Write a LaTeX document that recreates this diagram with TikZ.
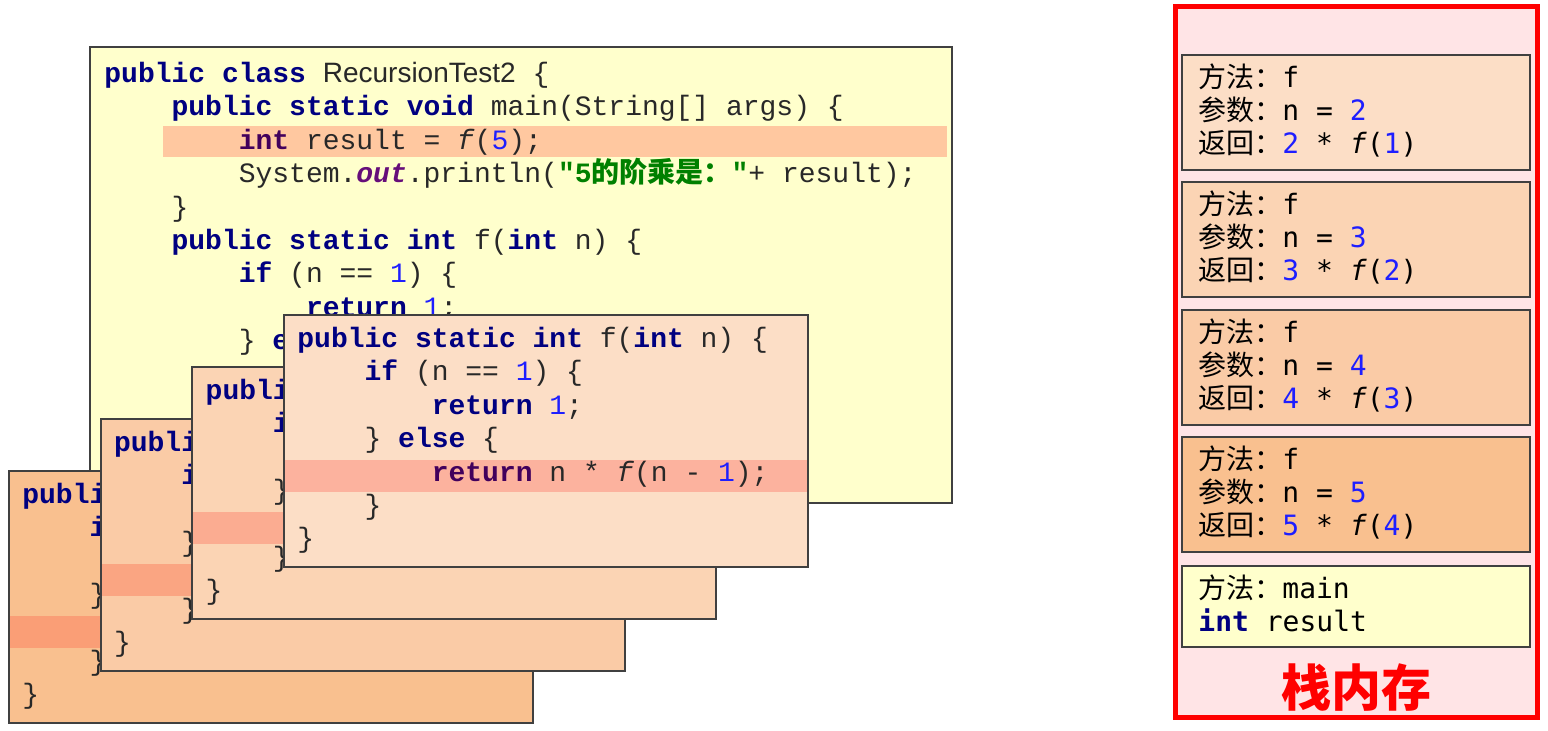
\documentclass[tikz,border=0pt]{standalone}
\usepackage{fontspec}
\setmainfont{Liberation Serif}
\setsansfont{Liberation Sans}
\setmonofont{Liberation Mono}
\newfontfamily\cjk{Noto Sans CJK SC}
\newfontfamily\stackmono{DejaVu Sans Mono}
\usepackage{xcolor}
\usetikzlibrary{positioning}

\definecolor{kwblue}{RGB}{0,0,128}
\definecolor{kwdark}{RGB}{66,0,92}
\definecolor{numblue}{RGB}{30,30,255}
\definecolor{outpurple}{RGB}{102,14,122}
\definecolor{strgreen}{RGB}{0,128,0}
\definecolor{plain}{RGB}{40,40,40}
\definecolor{edge}{RGB}{64,64,64}
\definecolor{mainfill}{RGB}{255,255,204}
\definecolor{mainhl}{RGB}{255,200,160}
\definecolor{frameA}{RGB}{249,192,143}
\definecolor{frameB}{RGB}{250,203,166}
\definecolor{frameC}{RGB}{251,212,180}
\definecolor{frameD}{RGB}{252,222,198}
\definecolor{hlA}{RGB}{250,158,118}
\definecolor{hlB}{RGB}{250,165,130}
\definecolor{hlC}{RGB}{251,172,145}
\definecolor{hlD}{RGB}{252,178,158}
\definecolor{stackbg}{RGB}{255,228,230}

\newlength\codecw
\setlength\codecw{8.4pt}
\newcommand\ind[1]{\hspace*{#1\codecw}}
\newcommand\kwd[1]{\textbf{\color{kwblue}#1}}
\newcommand\kwp[1]{\textbf{\color{kwdark}#1}}
\newcommand\numc[1]{\textcolor{numblue}{#1}}
\newcommand\codestrut{\rule{0pt}{13pt}}

\begin{document}
\begin{tikzpicture}[x=0.5pt, y=-0.5pt,
  codebox/.style={draw=edge, line width=1pt},
  code/.style={anchor=north west, inner sep=0pt, align=left, text=plain,
               font=\ttfamily\fontsize{14}{16.7}\selectfont},
  stackline/.style={anchor=north west, inner sep=0pt, align=left, text=black,
                    font=\stackmono\fontsize{14}{16.5}\selectfont},
  title/.style={text=red, font=\cjk\bfseries\fontsize{25}{25}\selectfont}
]
\useasboundingbox (0,0) rectangle (1548,730);
% the class with main
\fill[mainfill] (90,47) rectangle (952,503);
\fill[mainhl] (163,126) rectangle (947,157);
\draw[codebox] (90,47) rectangle (952,503);
\node[code] (maincode) at (104,56) {\codestrut\kwd{public} \kwd{class} {\sffamily RecursionTest2} \{\\
\ind{4}\kwd{public} \kwd{static} \kwd{void} main(String[] args) \{\\
\ind{8}\kwp{int} result = \textit{f}(\numc{5});\\
\ind{8}System.\textbf{\textit{\color{outpurple}out}}.println(\textbf{\color{strgreen}"5{\cjk 的阶乘是：}"}+ result);\\
\ind{4}\}\\
\ind{4}\kwd{public} \kwd{static} \kwd{int} f(\kwd{int} n) \{\\
\ind{8}\kwd{if} (n == \numc{1}) \{\\
\ind{12}\kwd{return} \numc{1};\\
\ind{8}\} \kwd{else} \{};
% recursive calls f(5) ... f(2), back to front
\foreach \i/\fc/\hc in {0/frameA/hlA, 1/frameB/hlB, 2/frameC/hlC, 3/frameD/hlD}{
  \begin{scope}[shift={(9+91.67*\i, 471-52*\i)}]
    \fill[\fc] (0,0) rectangle (524,252);
    \fill[\hc] (0,145) rectangle (524,177);
    \draw[codebox] (0,0) rectangle (524,252);
    \node[code] (call\i) at (13,6) {\codestrut\kwd{public} \kwd{static} \kwd{int} f(\kwd{int} n) \{\\
\ind{4}\kwd{if} (n == \numc{1}) \{\\
\ind{8}\kwd{return} \numc{1};\\
\ind{4}\} \kwd{else} \{\\
\ind{8}\kwp{return} n * \textit{f}(n - \numc{1});\\
\ind{4}\}\\
\}};
  \end{scope}
}
% stack memory
\draw[red, line width=2.5pt, fill=stackbg] (1175.5,6.5) rectangle (1537.5,717.5);
\foreach \n/\fc [count=\k from 0] in {2/frameD, 3/frameC, 4/frameB, 5/frameA}{
  \pgfmathtruncatemacro\m{\n-1}
  \pgfmathsetmacro\boxtop{55+127.4*\k}
  \filldraw[codebox, fill=\fc] (1182,\boxtop) rectangle (1530,\boxtop+115);
  \node[stackline] (frame\n) at (1198,\boxtop+6) {\codestrut{\cjk 方法：}f\\
{\cjk 参数：}n = \numc{\n}\\
{\cjk 返回：}\numc{\n} * \textit{f}(\numc{\m})};
}
\filldraw[codebox, fill=mainfill] (1182,566) rectangle (1530,647);
\node[stackline] (mainframe) at (1198,572) {\codestrut{\cjk 方法：}main\\
\textbf{\color{kwblue}int} result};
\node[title] (stacklabel) at (1356,688) {栈内存};
\end{tikzpicture}
\end{document}
